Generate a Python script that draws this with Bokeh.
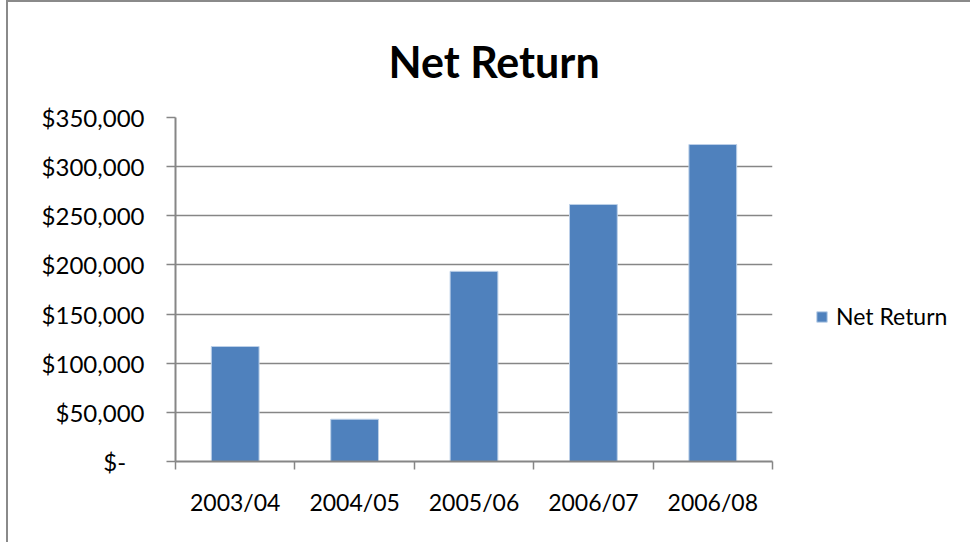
from bokeh.plotting import figure
from bokeh.models import (Range1d, LinearAxis, FixedTicker,
                          Legend, LegendItem, ColumnDataSource, Grid)
from bokeh.embed import file_html
from bokeh.resources import INLINE

# ---- data ----
categories = ["2003/04", "2004/05", "2005/06", "2006/07", "2006/08"]
net_return = [117000, 43000, 193500, 261500, 322500]
y_ticks = [0, 50000, 100000, 150000, 200000, 250000, 300000, 350000]
y_tick_labels = ["$-\u00a0\u00a0\u00a0", "$50,000", "$100,000", "$150,000", "$200,000",
                 "$250,000", "$300,000", "$350,000"]
series_name = "Net Return"
title_text = "Net Return"

FONT = "Lato"
GRID = "#868686"
BAR = "#4F81BD"

n = len(categories)
slot = [i + 0.5 for i in range(n)]          # category slot centres
bounds = [float(i) for i in range(n + 1)]   # category slot boundaries

p = figure(frame_width=597, frame_height=344, output_backend="svg", toolbar_location=None,
           x_range=Range1d(0, n), y_range=Range1d(0, 350000),
           x_axis_location=None, y_axis_location=None,
           min_border_left=167, min_border_right=190, min_border_top=115,
           min_border_bottom=81)
p.styles = {"border-left": "2px solid #8a8a8a", "border-top": "2px solid #8a8a8a",
            "margin-left": "6px"}
p.outline_line_color = None
p.background_fill_color = "white"
p.border_fill_color = "white"
for g in p.grid:
    g.visible = False

p.title.text = title_text
p.title.text_font = FONT
p.title.text_font_size = "43px"
p.title.text_font_style = "bold"
p.title.text_color = "black"
p.title.align = "left"
p.title.offset = 213
p.title.standoff = 62

src = ColumnDataSource(dict(x=slot, cat=categories, val=net_return))
bars = p.vbar(x="x", top="val", width=0.4, source=src, fill_color=BAR,
              line_color="#bcd0e8", line_width=1)

# y axis
yax = LinearAxis(ticker=FixedTicker(ticks=y_ticks, minor_ticks=[]),
                 major_label_overrides={t: l for t, l in zip(y_ticks, y_tick_labels)})
yax.axis_line_color = GRID
yax.axis_line_width = 2
yax.major_tick_line_color = GRID
yax.major_tick_line_width = 1.5
yax.major_tick_out = 9
yax.major_tick_in = 0
yax.major_label_standoff = 22
yax.major_label_text_font = FONT
yax.major_label_text_font_size = "24px"
yax.major_label_text_color = "black"
p.add_layout(yax, "left")

# x axis (ticks at category boundaries, labels at centres)
xax = LinearAxis(ticker=FixedTicker(ticks=slot, minor_ticks=bounds),
                 major_label_overrides={c: name for c, name in zip(slot, categories)})
xax.axis_line_color = GRID
xax.axis_line_width = 2
xax.major_tick_line_color = None
xax.major_tick_out = 0
xax.major_tick_in = 0
xax.minor_tick_line_color = GRID
xax.minor_tick_line_width = 1.5
xax.minor_tick_out = 8
xax.minor_tick_in = 0
xax.major_label_standoff = 18
xax.major_label_text_font = FONT
xax.major_label_text_font_size = "23px"
xax.major_label_text_color = "black"
p.add_layout(xax, "below")

p.add_layout(Grid(dimension=1, ticker=yax.ticker, grid_line_color=GRID,
                  grid_line_width=1.5))

# legend
legend = Legend(items=[LegendItem(label=series_name, renderers=[bars])],
                location=(43, 131), orientation="vertical")
legend.margin = 0
legend.padding = 0
legend.spacing = 0
legend.glyph_width = 13
legend.glyph_height = 13
legend.label_standoff = 8
legend.label_text_font = FONT
legend.label_text_font_size = "23px"
legend.label_text_color = "black"
legend.border_line_color = None
legend.background_fill_alpha = 0
p.add_layout(legend, "right")

open("out.html", "w").write(file_html(p, INLINE))
